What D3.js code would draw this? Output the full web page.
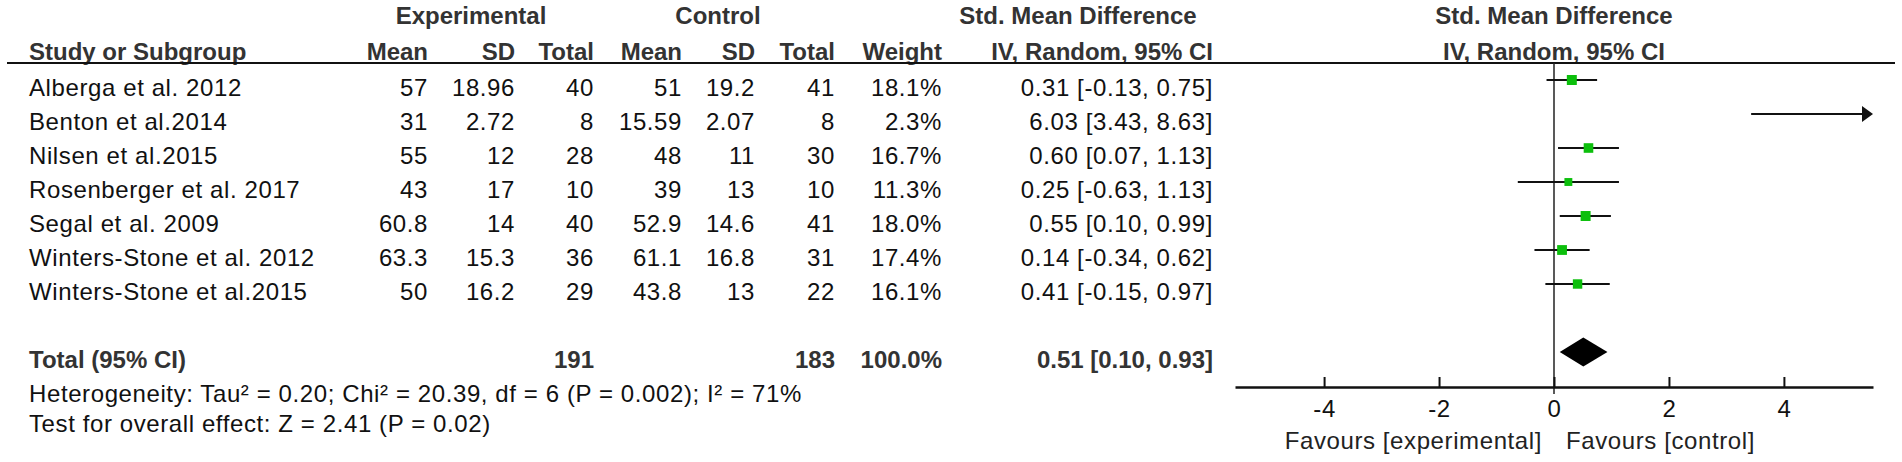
<!DOCTYPE html>
<html>
<head>
<meta charset="utf-8">
<script src="https://cdn.jsdelivr.net/npm/d3@7"></script>
<style>
  html, body { margin: 0; padding: 0; background: #fff; }
  svg text { font-family: "Liberation Sans", Arial, sans-serif; }
</style>
</head>
<body>
<div id="chart"></div>
<script>
// ---- data ----
const studies = [
    "Alberga et al. 2012", "Benton et al.2014", "Nilsen et al.2015",
    "Rosenberger et al. 2017", "Segal et al. 2009",
    "Winters-Stone et al. 2012", "Winters-Stone et al.2015"
];
const expMean = [57, 31, 55, 43, 60.8, 63.3, 50];
const expSD = [18.96, 2.72, 12, 17, 14, 15.3, 16.2];
const expTotal = [40, 8, 28, 10, 40, 36, 29];
const ctrlMean = [51, 15.59, 48, 39, 52.9, 61.1, 43.8];
const ctrlSD = [19.2, 2.07, 11, 13, 14.6, 16.8, 13];
const ctrlTotal = [41, 8, 30, 10, 41, 31, 22];
const weights = [18.1, 2.3, 16.7, 11.3, 18.0, 17.4, 16.1];
const smd = [0.31, 6.03, 0.60, 0.25, 0.55, 0.14, 0.41];
const ciLow = [-0.13, 3.43, 0.07, -0.63, 0.10, -0.34, -0.15];
const ciHigh = [0.75, 8.63, 1.13, 1.13, 0.99, 0.62, 0.97];

const pooled = { smd: 0.51, low: 0.10, high: 0.93, expN: 191, ctrlN: 183, weight: 100.0 };
const heterogeneityText = "Heterogeneity: Tau\u00b2 = 0.20; Chi\u00b2 = 20.39, df = 6 (P = 0.002); I\u00b2 = 71%";
const overallText = "Test for overall effect: Z = 2.41 (P = 0.02)";
const axisTicks = [-4, -2, 0, 2, 4];
const favourLeft = "Favours [experimental]";
const favourRight = "Favours [control]";

// ---- layout ----
const width = 1902, height = 462;
const fontSize = 24;
const ls = 0.6;      // slight tracking, the original is a wide pixel font

const loc = d3.formatLocale({ decimal: ".", thousands: ",", grouping: [3], currency: ["", ""], minus: "-" });
const f2 = loc.format(".2f");
const f1 = loc.format(".1f");
const num = v => String(v);
const ci = (m, l, h) => `${f2(m)} [${f2(l)}, ${f2(h)}]`;

const svg = d3.select("#chart")
    .append("svg")
    .attr("width", width)
    .attr("height", height)
    .attr("viewBox", [0, 0, width, height]);

const x = d3.scaleLinear().domain([-5.55, 5.55]).range([1235, 1873]);
const y = d3.scaleLinear().domain([0, 8]).range([80, 352]);
const boxSize = d3.scaleSqrt().domain([0, 20]).range([0, 10.5]);
const textDy = 16;

// columns of the table (right aligned numbers)
const columns = [
    { x: 428, values: expMean.map(num), head: "Mean" },
    { x: 515, values: expSD.map(num), head: "SD" },
    { x: 594, values: expTotal.map(num), head: "Total", total: pooled.expN },
    { x: 682, values: ctrlMean.map(num), head: "Mean" },
    { x: 755, values: ctrlSD.map(num), head: "SD" },
    { x: 835, values: ctrlTotal.map(num), head: "Total", total: pooled.ctrlN },
    { x: 942, values: weights.map(w => f1(w) + "%"), head: "Weight", total: f1(pooled.weight) + "%" },
    { x: 1213, values: studies.map((s, i) => ci(smd[i], ciLow[i], ciHigh[i])), head: "IV, Random, 95% CI",
      total: ci(pooled.smd, pooled.low, pooled.high) }
];

function boldText(g, tx, ty, str, anchor) {
    return g.append("text")
        .attr("x", tx).attr("y", ty)
        .attr("text-anchor", anchor || "start")
        .attr("font-size", fontSize)
        .attr("font-weight", "bold")
        .attr("fill", "#333")
        .text(str);
}

const header = svg.append("g");
boldText(header, 471, 24, "Experimental", "middle");
boldText(header, 718, 24, "Control", "middle");
boldText(header, 1078, 24, "Std. Mean Difference", "middle");
boldText(header, 1554, 24, "Std. Mean Difference", "middle");
boldText(header, 29, 60, "Study or Subgroup");
columns.forEach(c => boldText(header, c.x, 60, c.head, "end"));
boldText(header, 1554, 60, "IV, Random, 95% CI", "middle");

header.append("line")
    .attr("x1", 7).attr("x2", 1895)
    .attr("y1", 63).attr("y2", 63)
    .attr("stroke", "#111")
    .attr("stroke-width", 2);

// study rows
const body = svg.append("g")
    .attr("font-size", fontSize)
    .attr("letter-spacing", ls)
    .attr("fill", "#111");

body.selectAll("text.study")
    .data(studies)
    .join("text")
    .attr("class", "study")
    .attr("x", 29)
    .attr("y", (d, i) => y(i) + textDy)
    .text(d => d);

columns.forEach(c => {
    body.append("g")
        .attr("text-anchor", "end")
        .selectAll("text")
        .data(c.values)
        .join("text")
        .attr("x", c.x)
        .attr("y", (d, i) => y(i) + textDy)
        .text(d => d);
});

// total row
boldText(svg, 29, y(8) + textDy, "Total (95% CI)");
columns.filter(c => c.total !== undefined)
    .forEach(c => boldText(svg, c.x, y(8) + textDy, c.total, "end"));

body.append("text").attr("x", 29).attr("y", 402).text(heterogeneityText);
body.append("text").attr("x", 29).attr("y", 432).text(overallText);

// ---- forest plot ----
const plot = svg.append("g");
const [xMin, xMax] = x.domain();

plot.append("line")
    .attr("x1", x(0)).attr("x2", x(0))
    .attr("y1", 63).attr("y2", 394)
    .attr("stroke", "#222")
    .attr("stroke-width", 1.5);

const rows = studies.map((s, i) => ({ i, est: smd[i], lo: ciLow[i], hi: ciHigh[i], w: weights[i] }));

plot.selectAll("line.ci")
    .data(rows)
    .join("line")
    .attr("class", "ci")
    .attr("x1", d => x(Math.max(d.lo, xMin)))
    .attr("x2", d => x(Math.min(d.hi, xMax)) - (d.hi > xMax ? 6 : 0))
    .attr("y1", d => y(d.i)).attr("y2", d => y(d.i))
    .attr("stroke", "#111")
    .attr("stroke-width", 2.2);

// arrow heads for intervals running off the scale
plot.selectAll("path.arrow")
    .data(rows.filter(d => d.hi > xMax))
    .join("path")
    .attr("class", "arrow")
    .attr("d", d => {
        const ax = x(xMax), ay = y(d.i);
        return `M${ax},${ay} L${ax - 11},${ay - 8} L${ax - 11},${ay + 8} Z`;
    })
    .attr("fill", "#111");

plot.selectAll("rect.box")
    .data(rows.filter(d => d.est >= xMin && d.est <= xMax))
    .join("rect")
    .attr("class", "box")
    .attr("x", d => x(d.est) - boxSize(d.w) / 2)
    .attr("y", d => y(d.i) - boxSize(d.w) / 2)
    .attr("width", d => boxSize(d.w))
    .attr("height", d => boxSize(d.w))
    .attr("fill", "#0cbf0c");

// pooled diamond
const dy = y(8), dh = 14.5;
plot.append("path")
    .attr("d", `M${x(pooled.low)},${dy} L${x(pooled.smd)},${dy - dh} L${x(pooled.high)},${dy} L${x(pooled.smd)},${dy + dh} Z`)
    .attr("fill", "#000");

// axis
const axis = plot.append("g")
    .attr("transform", "translate(0,387)")
    .call(d3.axisBottom(x)
        .tickValues(axisTicks)
        .tickFormat(loc.format("d"))
        .tickSizeInner(-10)
        .tickSizeOuter(0)
        .tickPadding(13));

axis.select(".domain").attr("stroke", "#111").attr("stroke-width", 2.5);
axis.selectAll(".tick line").attr("stroke", "#111").attr("stroke-width", 2);
axis.selectAll(".tick text")
    .attr("font-size", fontSize)
    .attr("font-family", "Liberation Sans, Arial, sans-serif")
    .attr("letter-spacing", ls)
    .attr("fill", "#111");

plot.append("text")
    .attr("x", x(0) - 12).attr("y", 449)
    .attr("text-anchor", "end")
    .attr("font-size", fontSize)
    .attr("letter-spacing", ls)
    .attr("fill", "#222")
    .text(favourLeft);

plot.append("text")
    .attr("x", x(0) + 12).attr("y", 449)
    .attr("font-size", fontSize)
    .attr("letter-spacing", ls)
    .attr("fill", "#222")
    .text(favourRight);
</script>
</body>
</html>
